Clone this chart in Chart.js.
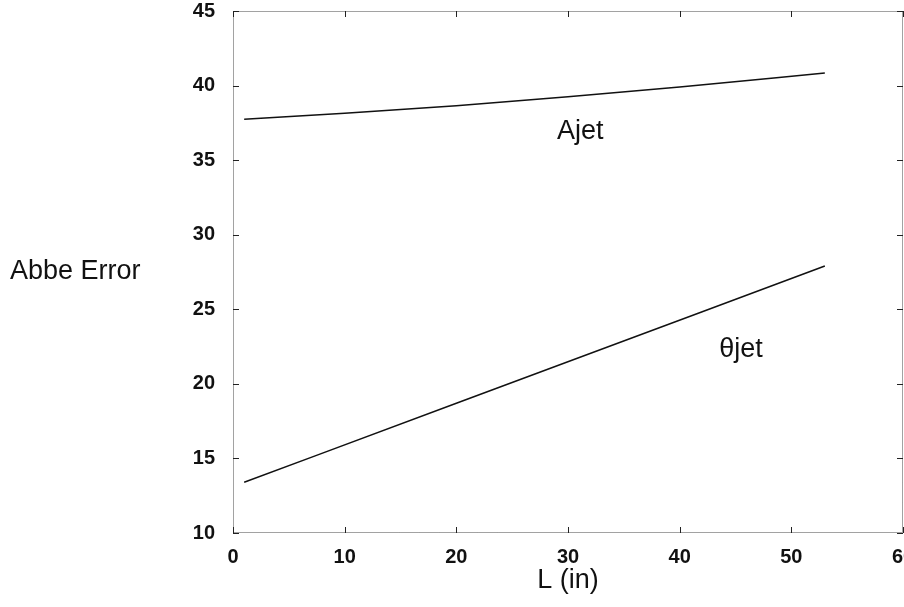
<!DOCTYPE html>
<html>
<head>
<meta charset="utf-8">
<script src="https://cdn.jsdelivr.net/npm/chart.js@4/dist/chart.umd.min.js"></script>
<style>
  html, body { margin: 0; padding: 0; background: #fff; }
  #wrap { width: 904px; height: 607px; }
</style>
</head>
<body>
<div id="wrap"><canvas id="abbe"></canvas></div>
<script>
// values
var lengthAjet = [1, 10, 20, 30, 40, 53];
var errorAjet = [37.75, 38.15, 38.65, 39.25, 39.9, 40.85];
var lengthTheta = [1, 20, 53];
var errorTheta = [13.4, 18.7, 27.9];
var xTicks = [0, 10, 20, 30, 40, 50, 60];
var yTicks = [10, 15, 20, 25, 30, 35, 40, 45];
var curveLabels = [
    { text: "Ajet", x: 31.1, y: 36.9 },
    { text: "\u03b8jet", x: 45.5, y: 22.3 },
];

var fontFamily = "'Liberation Sans', Arial, sans-serif";

function toPoints(xs, ys) {
    return xs.map(function (x, i) {
        return { x: x, y: ys[i] };
    });
}

// frame, inward ticks, curve names and the axis titles
var framePlugin = {
    id: "frame",
    afterDraw: function (chart) {
        var ctx = chart.ctx;
        var a = chart.chartArea;
        var xs = chart.scales.x;
        var ys = chart.scales.y;
        ctx.save();
        ctx.strokeStyle = "#444";
        ctx.lineWidth = 1;
        ctx.setLineDash([1, 1]);
        ctx.strokeRect(a.left + 0.5, a.top + 0.5, a.right - a.left - 1, a.bottom - a.top - 1);
        ctx.setLineDash([]);
        ctx.strokeStyle = "#222";
        xTicks.forEach(function (v) {
            var px = Math.round(xs.getPixelForValue(v)) + 0.5;
            ctx.beginPath();
            ctx.moveTo(px, a.bottom);
            ctx.lineTo(px, a.bottom - 6);
            ctx.moveTo(px, a.top);
            ctx.lineTo(px, a.top + 6);
            ctx.stroke();
        });
        yTicks.forEach(function (v) {
            var py = Math.round(ys.getPixelForValue(v)) + 0.5;
            ctx.beginPath();
            ctx.moveTo(a.left, py);
            ctx.lineTo(a.left + 6, py);
            ctx.moveTo(a.right, py);
            ctx.lineTo(a.right - 6, py);
            ctx.stroke();
        });
        ctx.fillStyle = "#111";
        ctx.font = "27px " + fontFamily;
        ctx.textAlign = "center";
        ctx.textBaseline = "middle";
        curveLabels.forEach(function (l) {
            ctx.fillText(l.text, xs.getPixelForValue(l.x), ys.getPixelForValue(l.y));
        });
        ctx.fillText("L (in)", 568, 581);
        ctx.textAlign = "left";
        ctx.fillText("Abbe Error", 10, 272);
        ctx.restore();
    },
};

var ctxAbbe = document.getElementById("abbe");
var abbeChart = new Chart(ctxAbbe, {
    type: "line",
    data: {
        datasets: [
            {
                label: "Ajet",
                data: toPoints(lengthAjet, errorAjet),
                borderColor: "#111",
                borderWidth: 1.5,
                pointRadius: 0,
                cubicInterpolationMode: "monotone",
            },
            {
                label: "\u03b8jet",
                data: toPoints(lengthTheta, errorTheta),
                borderColor: "#111",
                borderWidth: 1.5,
                pointRadius: 0,
                cubicInterpolationMode: "monotone",
            },
        ],
    },
    options: {
        responsive: true,
        maintainAspectRatio: false,
        animation: false,
        layout: { padding: { left: 0, right: 1, top: 11, bottom: 0 } },
        plugins: {
            legend: { display: false },
            tooltip: { enabled: false },
        },
        scales: {
            x: {
                type: "linear",
                min: 0,
                max: 60,
                afterBuildTicks: function (scale) {
                    scale.ticks = xTicks.map(function (v) { return { value: v }; });
                },
                afterFit: function (scale) {
                    scale.paddingLeft = 0;
                    scale.paddingRight = 0;
                    scale.height = 74;
                },
                grid: { display: false, drawTicks: false },
                border: { display: false },
                ticks: {
                    color: "#111",
                    padding: 12,
                    maxRotation: 0,
                    font: { family: fontFamily, size: 20, weight: "bold" },
                },
            },
            y: {
                type: "linear",
                min: 10,
                max: 45,
                afterBuildTicks: function (scale) {
                    scale.ticks = yTicks.map(function (v) { return { value: v }; });
                },
                afterFit: function (scale) {
                    scale.width = 233;
                    scale.paddingTop = 0;
                    scale.paddingBottom = 0;
                },
                grid: { display: false, drawTicks: false },
                border: { display: false },
                ticks: {
                    color: "#111",
                    padding: 18,
                    font: { family: fontFamily, size: 20, weight: "bold" },
                },
            },
        },
    },
    plugins: [framePlugin],
});
</script>
</body>
</html>
